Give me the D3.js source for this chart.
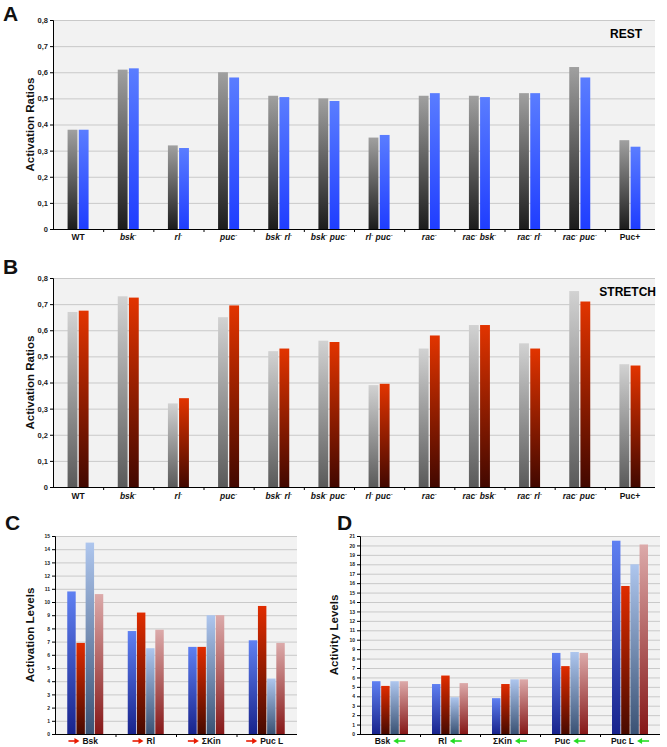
<!DOCTYPE html>
<html><head><meta charset="utf-8">
<script src="https://cdn.jsdelivr.net/npm/d3@7"></script>
<style>body{margin:0;background:#fff}svg{display:block}text{font-family:"Liberation Sans",Arial,sans-serif}</style>
</head><body><svg id="c" width="667" height="747"></svg>
<script>
// ---------- DATA ----------
const genotypes = ["WT","bsk-","rl-","puc-","bsk- rl-","bsk- puc-","rl- puc-","rac-","rac- bsk-","rac- rl-","rac- puc-","Puc+"];
const restGray    = [0.38,0.61,0.32,0.60,0.51,0.50,0.35,0.51,0.51,0.52,0.62,0.34];
const restBlue    = [0.38,0.615,0.31,0.58,0.505,0.49,0.36,0.52,0.505,0.52,0.58,0.315];
const stretchGray = [0.67,0.73,0.32,0.65,0.52,0.56,0.39,0.53,0.62,0.55,0.75,0.47];
const stretchRed  = [0.675,0.725,0.34,0.695,0.53,0.555,0.395,0.58,0.62,0.53,0.71,0.465];
const ratioTicks  = [0,0.1,0.2,0.3,0.4,0.5,0.6,0.7,0.8];

const kinasesC   = ["Bsk","Rl","ΣKin","Puc L"];
const cBlue      = [10.8,7.8,6.6,7.1];
const cRed       = [6.9,9.2,6.6,9.7];
const cLightBlue = [14.5,6.5,9.0,4.2];
const cPink      = [10.6,7.9,9.0,6.9];
const levelTicksC = [0,1,2,3,4,5,6,7,8,9,10,11,12,13,14,15];

const kinasesD   = ["Bsk","Rl","ΣKin","Puc","Puc L"];
const dBlue      = [5.6,5.3,3.8,8.6,20.5];
const dRed       = [5.1,6.2,5.3,7.2,15.7];
const dLightBlue = [5.6,3.9,5.8,8.7,18.0];
const dPink      = [5.6,5.4,5.8,8.6,20.1];
const levelTicksD = [0,1,2,3,4,5,6,7,8,9,10,11,12,13,14,15,16,17,18,19,20,21];

// ---------- DRAW ----------
const svg = d3.select("#c");
const defs = svg.append("defs");
function grad(id, top, bottom){
  const g = defs.append("linearGradient").attr("id",id).attr("x1",0).attr("y1",0).attr("x2",0).attr("y2",1);
  g.append("stop").attr("offset","0%").attr("stop-color",top);
  g.append("stop").attr("offset","100%").attr("stop-color",bottom);
}
grad("gA","#a0a0a0","#1c1c1c");
grad("bA","#5a7dff","#1f3dff");
grad("gB","#d2d2d2","#5a5a5a");
grad("rB","#e23400","#420800");
grad("blC","#5f80f2","#18238c");
grad("rdC","#e02c00","#480a00");
grad("lbC","#aec6ee","#3a5274");
grad("pkC","#dcaaaa","#861818");

function panel(cfg){
  const g = svg.append("g");
  const x0 = d3.scaleBand().domain(cfg.cats).range([cfg.left,cfg.right]);
  const y = d3.scaleLinear().domain(cfg.domain).range([cfg.bottom,cfg.top]);
  const bw = x0.bandwidth();
  const x1 = d3.scaleBand().domain(d3.range(cfg.series.length))
     .range([(bw-cfg.groupW)/2,(bw+cfg.groupW)/2]).paddingInner(cfg.pad);
  g.append("rect").attr("x",cfg.left).attr("y",y(cfg.domain[1])).attr("width",cfg.bgRight-cfg.left)
    .attr("height",cfg.bottom-y(cfg.domain[1])).attr("fill","#f2f2f2");
  g.append("g").selectAll("line").data(cfg.ticks.slice(1)).join("line")
    .attr("x1",cfg.left).attr("x2",cfg.bgRight).attr("y1",d=>y(d)+0.5).attr("y2",d=>y(d)+0.5)
    .attr("stroke","#c9c9c9").attr("stroke-width",1);
  cfg.series.forEach((s,si)=>{
    g.append("g").selectAll("rect").data(s.values).join("rect")
      .attr("x",(d,i)=>x0(cfg.cats[i])+x1(si))
      .attr("width",x1.bandwidth())
      .attr("y",d=>y(d)).attr("height",d=>cfg.bottom-y(d))
      .attr("fill",`url(#${s.fill})`);
  });
  const ya = d3.axisLeft(y).tickValues(cfg.ticks).tickSize(3).tickFormat(cfg.fmt);
  const yg = g.append("g").attr("transform",`translate(${cfg.left},0)`).call(ya);
  yg.select(".domain").attr("stroke","#000");
  yg.selectAll("text").attr("font-size",cfg.tickFont).attr("font-weight","bold").attr("fill","#222").attr("x",-5);
  const xg = g.append("g").attr("transform",`translate(0,${cfg.bottom})`);
  xg.append("line").attr("x1",cfg.left).attr("x2",cfg.right).attr("y1",0.5).attr("y2",0.5).attr("stroke","#000");
  xg.selectAll("line.t").data(cfg.cats.slice(1)).join("line").attr("class","t")
    .attr("x1",d=>x0(d)+0.5).attr("x2",d=>x0(d)+0.5).attr("y1",0).attr("y2",3).attr("stroke","#000");
  g.append("text").attr("transform",`translate(${cfg.titleX},${(cfg.top+cfg.bottom)/2}) rotate(-90)`)
    .attr("text-anchor","middle").attr("font-size",11.5).attr("font-weight","bold").attr("fill","#111").text(cfg.yTitle);
  return {g,x0,y};
}

function genotypeLabels(p, cats, yBase){
  cats.forEach(c=>{
    const t = p.g.append("text").attr("x",p.x0(c)+p.x0.bandwidth()/2).attr("y",yBase)
      .attr("text-anchor","middle").attr("font-size",8.5).attr("font-weight","bold").attr("fill","#111")
      .attr("font-style",(c==="WT"||c==="Puc+")?"normal":"italic");
    let prevSup = false;
    c.split(" ").forEach((w,wi)=>{
      const sup = w.endsWith("-");
      const base = sup ? w.slice(0,-1) : w;
      t.append("tspan").attr("dy",prevSup?3:0).text((wi>0?"\u00a0":"")+base);
      if(sup) t.append("tspan").attr("dy",-3).attr("font-size",6).text("-");
      prevSup = sup;
    });
  });
}

const fmtRatio = d => d===0 ? "0" : d3.format(".1f")(d).replace(".",",");

const pA = panel({cats:genotypes,left:53,right:655,bgRight:655,top:20,bottom:229,domain:[0,0.8],ticks:ratioTicks,fmt:fmtRatio,
  tickFont:7.5,groupW:21,pad:0.12,series:[{values:restGray,fill:"gA"},{values:restBlue,fill:"bA"}],yTitle:"Activation Ratios",titleX:34});
genotypeLabels(pA,genotypes,240);
svg.append("text").attr("x",642).attr("y",38).attr("text-anchor","end").attr("font-size",12).attr("font-weight","bold").text("REST");

const pB = panel({cats:genotypes,left:53,right:655,bgRight:655,top:278,bottom:487,domain:[0,0.8],ticks:ratioTicks,fmt:fmtRatio,
  tickFont:7.5,groupW:21,pad:0.12,series:[{values:stretchGray,fill:"gB"},{values:stretchRed,fill:"rB"}],yTitle:"Activation Ratios",titleX:34});
genotypeLabels(pB,genotypes,499);
svg.append("text").attr("x",656).attr("y",296).attr("text-anchor","end").attr("font-size",12).attr("font-weight","bold").text("STRETCH");

const pC = panel({cats:kinasesC,left:55,right:297,bgRight:297,top:536,bottom:734,domain:[0,15],ticks:levelTicksC,fmt:d3.format("d"),
  tickFont:5,groupW:36,pad:0.08,series:[{values:cBlue,fill:"blC"},{values:cRed,fill:"rdC"},{values:cLightBlue,fill:"lbC"},{values:cPink,fill:"pkC"}],
  yTitle:"Activation Levels",titleX:34});
kinasesC.forEach(k=>{
  const cx = pC.x0(k)+pC.x0.bandwidth()/2;
  const lg = pC.g.append("g");
  const t = lg.append("text").attr("x",0).attr("y",744).attr("font-size",8.5).attr("font-weight","bold").attr("fill","#111").text(k);
  const w = t.node().getComputedTextLength();
  const aw = 11, gap = 3, total = aw+gap+w;
  const sx = cx - total/2 - 2;
  t.attr("x",sx+aw+gap);
  lg.append("line").attr("x1",sx).attr("x2",sx+aw-4).attr("y1",741).attr("y2",741).attr("stroke","#e81a00").attr("stroke-width",1.6);
  lg.append("path").attr("d",`M${sx+aw},741 L${sx+aw-5},738 L${sx+aw-5},744 Z`).attr("fill","#e81a00");
});

const pD = panel({cats:kinasesD,left:360,right:660,bgRight:660,top:536,bottom:734,domain:[0,21],ticks:levelTicksD,fmt:d3.format("d"),
  tickFont:5,groupW:36,pad:0.08,series:[{values:dBlue,fill:"blC"},{values:dRed,fill:"rdC"},{values:dLightBlue,fill:"lbC"},{values:dPink,fill:"pkC"}],
  yTitle:"Activity Levels",titleX:338});
kinasesD.forEach(k=>{
  const cx = pD.x0(k)+pD.x0.bandwidth()/2;
  const lg = pD.g.append("g");
  const t = lg.append("text").attr("x",0).attr("y",744).attr("font-size",8.5).attr("font-weight","bold").attr("fill","#111").text(k);
  const w = t.node().getComputedTextLength();
  const aw = 12, gap = 3, total = aw+gap+w;
  const sx = cx - total/2;
  t.attr("x",sx);
  const ax = sx+w+gap;
  lg.append("line").attr("x1",ax+4).attr("x2",ax+aw).attr("y1",741).attr("y2",741).attr("stroke","#22dd22").attr("stroke-width",1.6);
  lg.append("path").attr("d",`M${ax},741 L${ax+5},738 L${ax+5},744 Z`).attr("fill","#22dd22");
});

[["A",3,21],["B",3,274],["C",5,530],["D",337,530]].forEach(([l,x,yy])=>{
  svg.append("text").attr("x",x).attr("y",yy).attr("font-size",21).attr("font-weight","bold").attr("fill","#111").text(l);
});
</script></body></html>
